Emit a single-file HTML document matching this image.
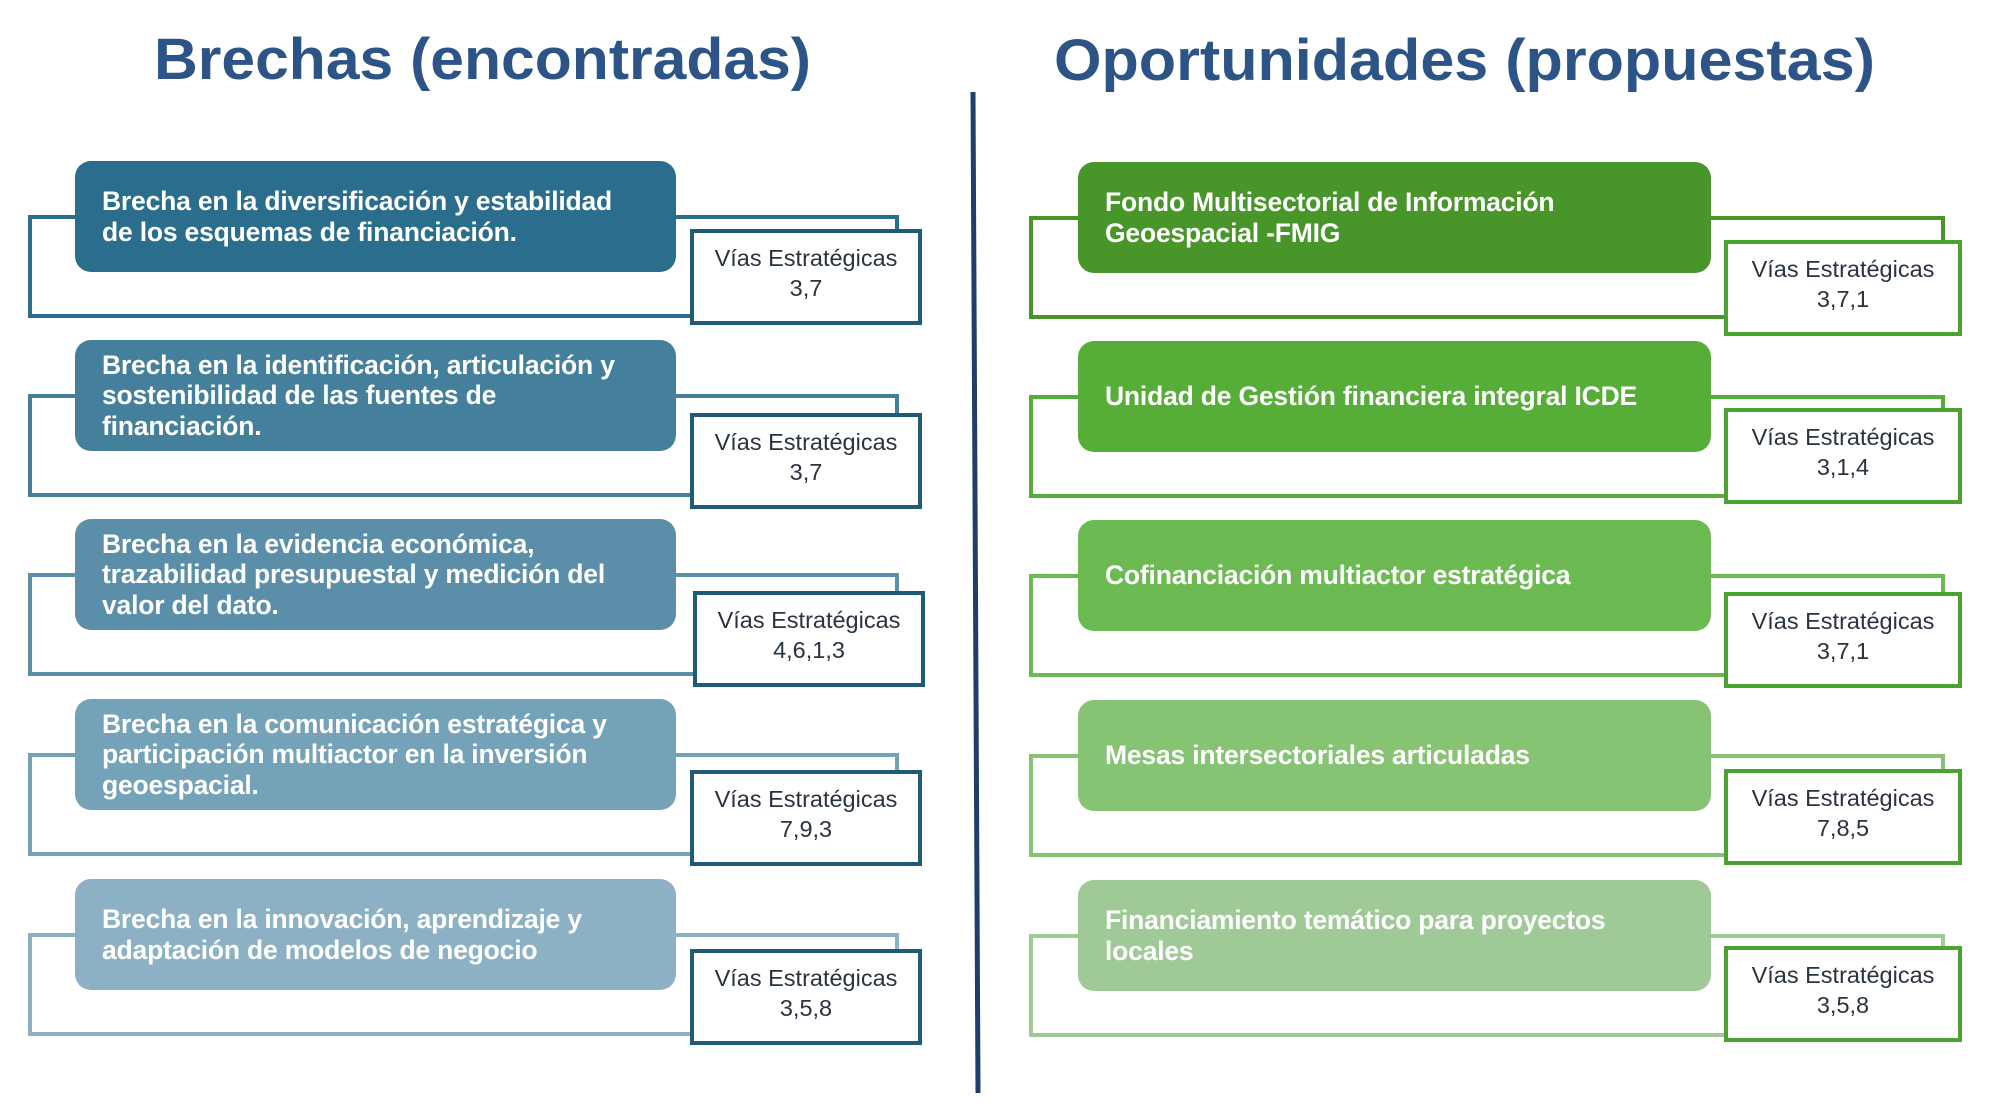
<!DOCTYPE html>
<html><head><meta charset="utf-8"><style>
body{margin:0;width:2000px;height:1117px;background:#fff;position:relative;overflow:hidden;font-family:"Liberation Sans",sans-serif}
.b{position:absolute;width:601px;height:111px;border-radius:16px;color:#fff;font-weight:bold;font-size:26.5px;letter-spacing:-0.2px;line-height:30.6px;display:flex;align-items:center;box-sizing:border-box;padding:0 10px 0 27px;white-space:nowrap}
.v{position:absolute;width:232px;height:96px;box-sizing:border-box;background:#fff;border:4px solid #1f5a78;text-align:center;font-size:23.5px;line-height:30px;color:#2a3340;display:flex;flex-direction:column;justify-content:center;padding-bottom:8px;white-space:nowrap}
.g{border-color:#4ba22f}
svg{position:absolute;left:0;top:0}
</style></head><body>
<svg width="2000" height="1117">
<text x="154" y="79" font-family="Liberation Sans" font-weight="bold" font-size="58" fill="#2c5487" textLength="657" lengthAdjust="spacingAndGlyphs">Brechas (encontradas)</text>
<text x="1054" y="80" font-family="Liberation Sans" font-weight="bold" font-size="58" fill="#2c5487" textLength="821" lengthAdjust="spacingAndGlyphs">Oportunidades (propuestas)</text>
<line x1="973" y1="92" x2="978" y2="1093" stroke="#1d3f68" stroke-width="5"/>
<g fill="none" stroke-width="4">
<path d="M76 217 H30 V316 H690 M676 217 H897 V229" stroke="#2b6d8c"/>
<path d="M76 396 H30 V495 H690 M676 396 H897 V413" stroke="#447f9c"/>
<path d="M76 575 H30 V674 H693 M676 575 H897 V591" stroke="#5b8fa9"/>
<path d="M76 755 H30 V854 H690 M676 755 H897 V770" stroke="#74a2b9"/>
<path d="M76 935 H30 V1034 H690 M676 935 H897 V949" stroke="#8cb1c5"/>
<path d="M1078 218 H1031 V317 H1724 M1710 218 H1943 V240" stroke="#48952a"/>
<path d="M1078 397 H1031 V496 H1724 M1710 397 H1943 V408" stroke="#56ad38"/>
<path d="M1078 576 H1031 V675 H1724 M1710 576 H1943 V592" stroke="#6cbb52"/>
<path d="M1078 756 H1031 V855 H1724 M1710 756 H1943 V769" stroke="#86c373"/>
<path d="M1078 936 H1031 V1035 H1724 M1710 936 H1943 V946" stroke="#a0c998"/>
</g>
</svg>
<div class="b" style="left:75px;top:161px;background:#2b6d8c">Brecha en la diversificación y estabilidad<br>de los esquemas de financiación.</div>
<div class="b" style="left:75px;top:340px;background:#447f9c">Brecha en la identificación, articulación y<br>sostenibilidad de las fuentes de<br>financiación.</div>
<div class="b" style="left:75px;top:519px;background:#5b8fa9">Brecha en la evidencia económica,<br>trazabilidad presupuestal y medición del<br>valor del dato.</div>
<div class="b" style="left:75px;top:699px;background:#74a2b9">Brecha en la comunicación estratégica y<br>participación multiactor en la inversión<br>geoespacial.</div>
<div class="b" style="left:75px;top:879px;background:#8cb1c5">Brecha en la innovación, aprendizaje y<br>adaptación de modelos de negocio</div>

<div class="b" style="left:1078px;top:162px;width:633px;background:#48952a">Fondo Multisectorial de Información<br>Geoespacial -FMIG</div>
<div class="b" style="left:1078px;top:341px;width:633px;background:#56ad38">Unidad de Gestión financiera integral ICDE</div>
<div class="b" style="left:1078px;top:520px;width:633px;background:#6cbb52">Cofinanciación multiactor estratégica</div>
<div class="b" style="left:1078px;top:700px;width:633px;background:#86c373">Mesas intersectoriales articuladas</div>
<div class="b" style="left:1078px;top:880px;width:633px;background:#a0c998">Financiamiento temático para proyectos<br>locales</div>

<div class="v" style="left:690px;top:229px">Vías Estratégicas<br>3,7</div>
<div class="v" style="left:690px;top:413px">Vías Estratégicas<br>3,7</div>
<div class="v" style="left:693px;top:591px">Vías Estratégicas<br>4,6,1,3</div>
<div class="v" style="left:690px;top:770px">Vías Estratégicas<br>7,9,3</div>
<div class="v" style="left:690px;top:949px">Vías Estratégicas<br>3,5,8</div>

<div class="v g" style="left:1724px;top:240px;width:238px">Vías Estratégicas<br>3,7,1</div>
<div class="v g" style="left:1724px;top:408px;width:238px">Vías Estratégicas<br>3,1,4</div>
<div class="v g" style="left:1724px;top:592px;width:238px">Vías Estratégicas<br>3,7,1</div>
<div class="v g" style="left:1724px;top:769px;width:238px">Vías Estratégicas<br>7,8,5</div>
<div class="v g" style="left:1724px;top:946px;width:238px">Vías Estratégicas<br>3,5,8</div>
</body></html>
